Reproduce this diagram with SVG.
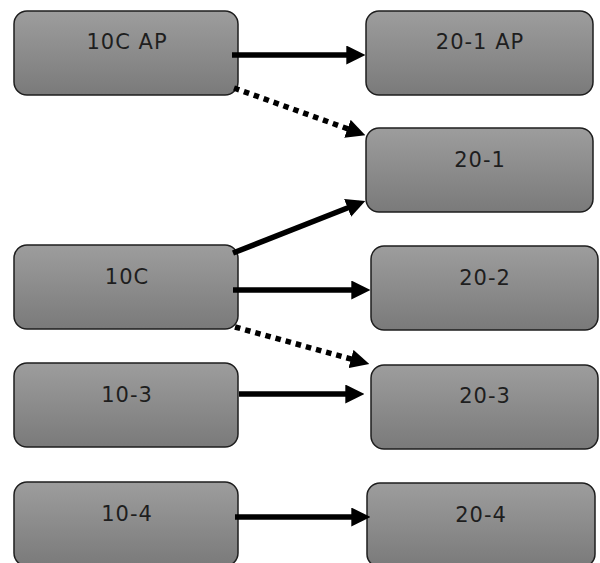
<svg xmlns="http://www.w3.org/2000/svg" width="600" height="563" viewBox="0 0 600 563">
  <defs>
    <linearGradient id="g" x1="0" y1="0" x2="0" y2="1">
      <stop offset="0" stop-color="#9d9d9d"/>
      <stop offset="1" stop-color="#7a7a7a"/>
    </linearGradient>
    <marker id="ah" markerUnits="userSpaceOnUse" markerWidth="19" markerHeight="19" viewBox="0 0 18 18" refX="12" refY="9" orient="auto">
      <path d="M0,0 L18,9 L0,18 z" fill="#000"/>
    </marker>
    <style>
      .n rect { fill: url(#g); stroke: #1e1e1e; stroke-width: 1.5; }
      .n text { font-family: "DejaVu Sans", "Liberation Sans", sans-serif; font-size: 21px; letter-spacing: 1px; fill: #1e1e1e; text-anchor: middle; }
      .c line { stroke: #000; stroke-width: 5.5; marker-end: url(#ah); }
      .c line.d { stroke-dasharray: 5.5 5; }
    </style>
  </defs>
  <rect width="600" height="563" fill="#fff"/>
  <g id="n-10CAP" class="n"><rect x="14" y="11" width="224" height="84" rx="13"/><text x="127" y="49">10C AP</text></g>
  <g id="n-201AP" class="n"><rect x="366" y="11" width="227" height="84" rx="13"/><text x="480" y="49">20-1 AP</text></g>
  <g id="n-201" class="n"><rect x="366" y="128" width="227" height="84" rx="13"/><text x="480" y="167">20-1</text></g>
  <g id="n-10C" class="n"><rect x="14" y="245" width="224" height="84" rx="13"/><text x="127" y="284">10C</text></g>
  <g id="n-202" class="n"><rect x="371" y="246" width="227" height="84" rx="13"/><text x="485" y="285">20-2</text></g>
  <g id="n-103" class="n"><rect x="14" y="363" width="224" height="84" rx="13"/><text x="127" y="402">10-3</text></g>
  <g id="n-203" class="n"><rect x="371" y="365" width="227" height="84" rx="13"/><text x="485" y="403">20-3</text></g>
  <g id="n-104" class="n"><rect x="14" y="482" width="224" height="84" rx="13"/><text x="127" y="521">10-4</text></g>
  <g id="n-204" class="n"><rect x="367" y="483" width="228" height="84" rx="13"/><text x="481" y="522">20-4</text></g>
  <g id="connectors" class="c">
    <line x1="232" y1="55" x2="359" y2="55"/>
    <line class="d" x1="234" y1="88" x2="359.4" y2="133"/>
    <line x1="233" y1="253" x2="359.4" y2="203.2"/>
    <line x1="233" y1="290" x2="364" y2="290"/>
    <line class="d" x1="235" y1="327" x2="363.2" y2="362.4"/>
    <line x1="239" y1="394" x2="358" y2="394"/>
    <line x1="235" y1="517" x2="364" y2="517"/>
  </g>
</svg>
